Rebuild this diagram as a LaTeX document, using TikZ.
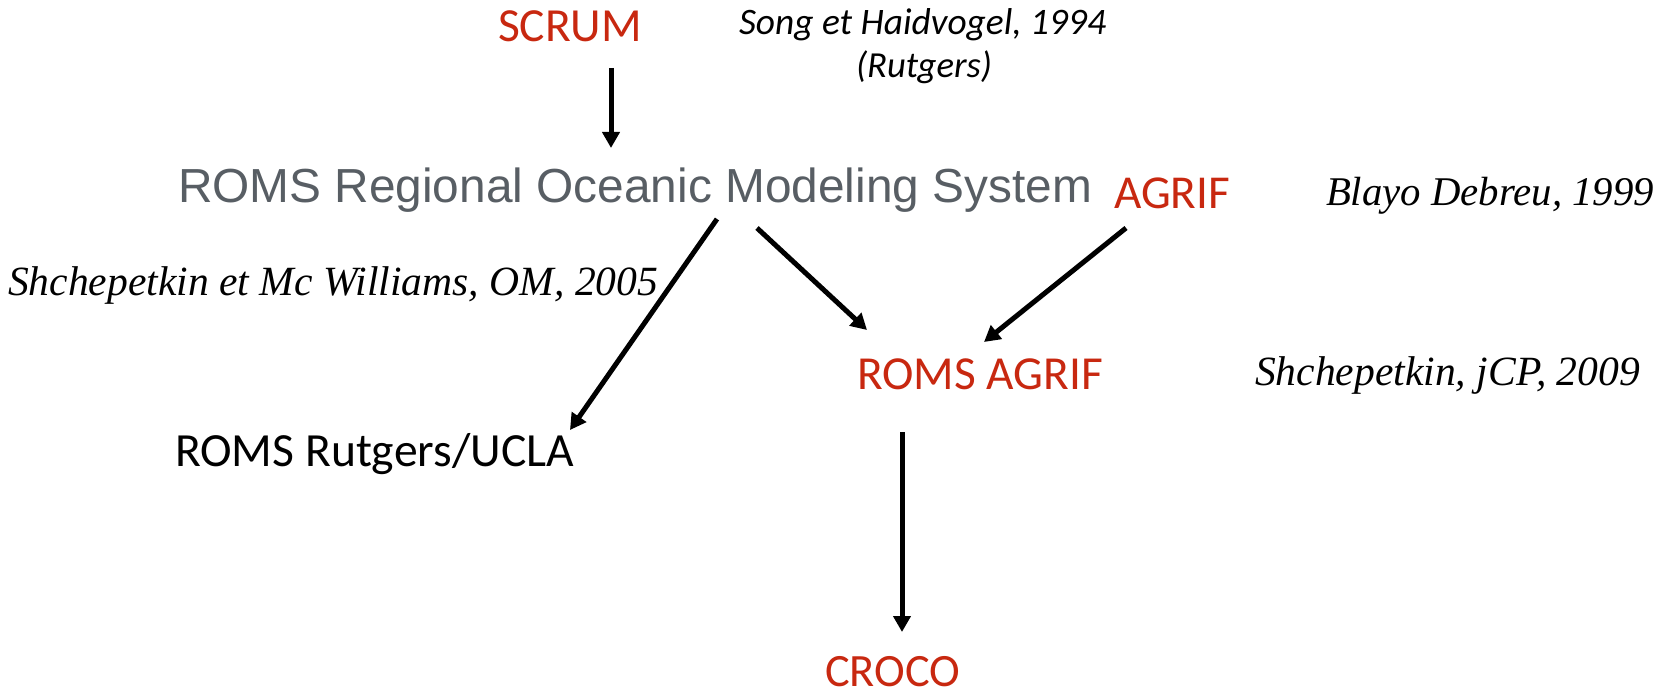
\documentclass[tikz,border=0pt]{standalone}
\usepackage{fontspec}
\usepackage{graphicx}
\usetikzlibrary{arrows.meta}
\newfontfamily\calib{Carlito}
\newfontfamily\arialf{Liberation Sans}
\newfontfamily\georg{Liberation Serif}
\definecolor{redt}{RGB}{200,40,16}
\definecolor{grayt}{RGB}{88,94,100}
\newcommand{\fitw}[2]{\resizebox{#1pt}{!}{#2}}
\begin{document}
\begin{tikzpicture}[x=1pt,y=-1pt,
  txt/.style={inner sep=0pt, outer sep=0pt, anchor=base west},
  redlab/.style={txt, text=redt, font=\calib},
  blklab/.style={txt, text=black, font=\calib},
  cite/.style={txt, text=black, font=\calib\itshape},
  gcite/.style={txt, text=black, font=\georg\itshape},
  arr/.style={draw=black, line width=5pt, -{Triangle[length=16pt,width=17pt]}}]
\useasboundingbox (0,0) rectangle (1663,698);
\fill[white] (0,0) rectangle (1663,698);
% texts
\node[redlab] (scrum) at (498,42) {\fitw{144}{SCRUM}};
\node[cite] (song) at (739,35) {\fitw{367}{Song et Haidvogel, 1994}};
\node[cite] (rutg) at (856,78) {\fitw{136}{(Rutgers)}};
\node[txt, text=grayt, font=\arialf] (roms) at (178,203) {\fitw{914}{ROMS Regional Oceanic Modeling System}};
\node[redlab] (agrif) at (1114,208) {\fitw{116}{AGRIF}};
\node[gcite] (blayo) at (1326,205) {\fitw{328}{Blayo Debreu, 1999}};
\node[gcite] (shmw) at (8,295) {\fitw{650}{Shchepetkin et Mc Williams, OM, 2005}};
\node[redlab] (romsagrif) at (857,389) {\fitw{246}{ROMS AGRIF}};
\node[gcite] (shjcp) at (1255,385) {\fitw{385}{Shchepetkin, jCP, 2009}};
\node[blklab] (rutucla) at (175,466) {\fitw{399}{ROMS Rutgers/UCLA}};
\node[redlab] (croco) at (825,686) {\fitw{135}{CROCO}};
% connector ends
\coordinate (scrumS) at (611,68);
\coordinate (romsN) at (611,148);
\coordinate (romsSW) at (717,219);
\coordinate (rutuclaN) at (570,430);
\coordinate (romsSE) at (757,228);
\coordinate (romsagrifNW) at (867,330);
\coordinate (agrifS) at (1126,228);
\coordinate (romsagrifNE) at (984,342);
\coordinate (romsagrifS) at (902,432);
\coordinate (crocoN) at (902,632);
\draw[arr] (scrumS) -- (romsN);
\draw[arr] (romsSW) -- (rutuclaN);
\draw[arr] (romsSE) -- (romsagrifNW);
\draw[arr] (agrifS) -- (romsagrifNE);
\draw[arr] (romsagrifS) -- (crocoN);
\end{tikzpicture}
\end{document}
